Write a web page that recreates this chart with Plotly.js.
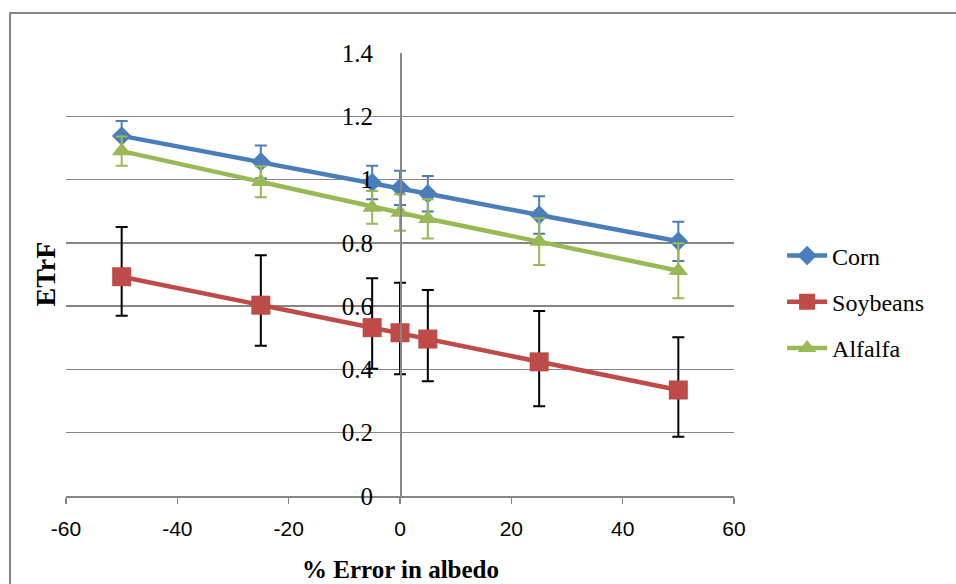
<!DOCTYPE html>
<html>
<head>
<meta charset="utf-8">
<script src="https://cdn.plot.ly/plotly-3.0.1.min.js"></script>
<style>html,body{margin:0;padding:0;background:#fff;}#chart{width:956px;height:584px;}</style>
</head>
<body>
<div id="chart"></div>
<script>
var xValues = [-50, -25, -5, 0, 5, 25, 50];
var seriesNames = ["Corn", "Soybeans", "Alfalfa"];
var corn = [1.138, 1.056, 0.991, 0.974, 0.955, 0.888, 0.805];
var cornErr = [0.047, 0.052, 0.053, 0.054, 0.056, 0.059, 0.062];
var soybeans = [0.693, 0.603, 0.532, 0.516, 0.496, 0.424, 0.335];
var soyErrPlus = [0.157, 0.158, 0.156, 0.158, 0.155, 0.161, 0.167];
var soyErrMinus = [0.123, 0.128, 0.130, 0.131, 0.133, 0.140, 0.148];
var alfalfa = [1.090, 0.993, 0.912, 0.896, 0.876, 0.804, 0.712];
var alfErr = [0.046, 0.049, 0.052, 0.058, 0.062, 0.074, 0.087];
var xTickVals = [-60, -40, -20, 0, 20, 40, 60];
var xTickText = ["-60", "-40", "-20", "0", "20", "40", "60"];
var yTickVals = [0, 0.2, 0.4, 0.6, 0.8, 1, 1.2, 1.4];
var yTickText = ["0", "0.2", "0.4", "0.6", "0.8", "1", "1.2", "1.4"];

var blue = "#4A7EBB", red = "#BE4B48", green = "#98B954";
var serif = "Liberation Serif, Times New Roman, serif";
var sans = "Liberation Sans, Arial, sans-serif";

var traces = [
  {x: xValues, y: corn, name: seriesNames[0], type: "scatter", mode: "lines+markers",
   legendgroup: "a",
   line: {color: blue, width: 4.5}, marker: {symbol: "diamond", size: 15, color: blue},
   error_y: {type: "data", array: cornErr, symmetric: true, color: blue, thickness: 2, width: 6}},
  {x: xValues, y: soybeans, name: seriesNames[1], type: "scatter", mode: "lines+markers",
   legendgroup: "b",
   line: {color: red, width: 4.5}, marker: {symbol: "square", size: 19, color: red},
   error_y: {type: "data", array: soyErrPlus, arrayminus: soyErrMinus, symmetric: false, color: "#000", thickness: 2, width: 6}},
  {x: xValues, y: alfalfa, name: seriesNames[2], type: "scatter", mode: "lines+markers",
   legendgroup: "c",
   line: {color: green, width: 4.5}, marker: {symbol: "triangle-up", size: 17, color: green},
   error_y: {type: "data", array: alfErr, symmetric: true, color: green, thickness: 2, width: 6}}
];

var layout = {
  width: 956, height: 584,
  margin: {l: 66, r: 222, t: 53, b: 88},
  paper_bgcolor: "#fff", plot_bgcolor: "#fff",
  showlegend: true,
  legend: {x: 1.072, y: 0.438, xanchor: "left", yanchor: "middle",
           font: {family: serif, size: 24, color: "#000"},
           tracegroupgap: 12, itemwidth: 40, bgcolor: "rgba(0,0,0,0)"},
  xaxis: {range: [-60, 60], tickvals: xTickVals, ticktext: xTickText, showgrid: false, zeroline: false,
          showline: true, linecolor: "#868686", linewidth: 1.5,
          ticks: "outside", ticklen: 6, tickcolor: "#868686", tickwidth: 1.5,
          ticklabelstandoff: 7,
          tickfont: {family: sans, size: 21, color: "#000"}, fixedrange: true},
  yaxis: {range: [0, 1.4], tickvals: yTickVals, ticktext: yTickText,
          anchor: "free", position: 0.5,
          showgrid: true, gridcolor: "#868686", gridwidth: 1.3, zeroline: false,
          showline: true, linecolor: "#868686", linewidth: 1.5,
          ticks: "", ticklabelstandoff: 22,
          tickfont: {family: serif, size: 25, color: "#000"}, fixedrange: true},
  annotations: [
    {text: "ETrF", xref: "paper", yref: "paper", x: -0.0314, y: 0.5, textangle: -90,
     showarrow: false, xanchor: "center", yanchor: "middle",
     font: {family: serif, size: 28, color: "#000", weight: "bold"}},
    {text: "% Error in albedo", xref: "paper", yref: "paper", x: 0.5, y: -0.167,
     showarrow: false, xanchor: "center", yanchor: "middle",
     font: {family: serif, size: 25, color: "#000", weight: "bold"}}
  ],
  shapes: [
    {type: "rect", xref: "paper", yref: "paper", x0: -0.0838, x1: 1.4, y0: -0.3, y1: 1.0903,
     line: {color: "#868686", width: 2}, fillcolor: "rgba(0,0,0,0)", layer: "below"}
  ]
};

Plotly.newPlot("chart", traces, layout, {staticPlot: true});
</script>
</body>
</html>
